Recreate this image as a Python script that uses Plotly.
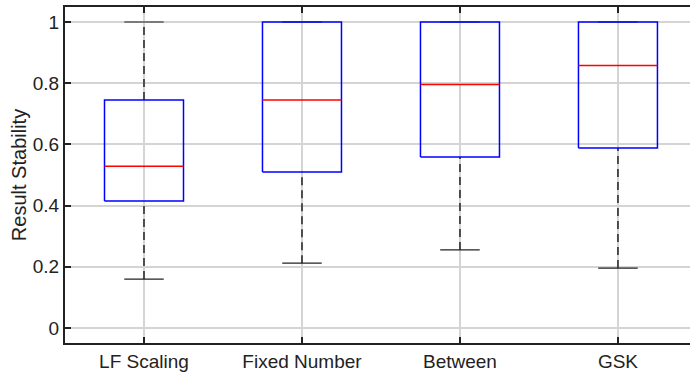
import plotly.graph_objects as go

categories = ["LF Scaling", "Fixed Number", "Between", "GSK"]
lower_whisker = [0.160, 0.212, 0.255, 0.196]
q1 = [0.415, 0.510, 0.559, 0.588]
median = [0.529, 0.745, 0.796, 0.858]
q3 = [0.745, 1.000, 1.000, 1.000]
upper_whisker = [1.000, 1.000, 1.000, 1.000]
y_ticks = [0, 0.2, 0.4, 0.6, 0.8, 1]

box_half = 0.25
cap_half = 0.125

fig = go.Figure()

for i, name in enumerate(categories):
    x = i + 1
    # whiskers (dashed)
    fig.add_trace(go.Scatter(x=[x, x], y=[lower_whisker[i], q1[i]], mode="lines",
                             line=dict(color="#222222", width=1.5, dash="8px,5px"),
                             showlegend=False, hoverinfo="skip"))
    if upper_whisker[i] > q3[i]:
        fig.add_trace(go.Scatter(x=[x, x], y=[q3[i], upper_whisker[i]], mode="lines",
                                 line=dict(color="#222222", width=1.5, dash="8px,5px"),
                                 showlegend=False, hoverinfo="skip"))
    # caps
    for v in (lower_whisker[i], upper_whisker[i]):
        fig.add_trace(go.Scatter(x=[x - cap_half, x + cap_half], y=[v, v], mode="lines",
                                 line=dict(color="#222222", width=1.2),
                                 showlegend=False, hoverinfo="skip"))
    # box
    fig.add_trace(go.Scatter(x=[x - box_half, x + box_half, x + box_half, x - box_half, x - box_half],
                             y=[q1[i], q1[i], q3[i], q3[i], q1[i]], mode="lines",
                             line=dict(color="#0000ff", width=1.5),
                             showlegend=False, hoverinfo="skip"))
    # median
    fig.add_trace(go.Scatter(x=[x - box_half, x + box_half], y=[median[i], median[i]], mode="lines",
                             line=dict(color="#ff0000", width=1.5),
                             showlegend=False, hoverinfo="skip"))

fig.update_layout(
    width=690, height=374,
    margin=dict(l=65, r=0, t=7, b=31),
    paper_bgcolor="white", plot_bgcolor="white",
    font=dict(family="Liberation Sans, Arial, sans-serif", size=19, color="#222222"),
    xaxis=dict(range=[0.5, 4.456], tickvals=[1, 2, 3, 4], ticktext=categories,
               showgrid=True, gridcolor="#d4d4d4", gridwidth=1.5,
               showline=True, linecolor="#222222", linewidth=2, mirror="ticks",
               ticks="inside", ticklen=6, tickwidth=2, tickcolor="#222222",
               zeroline=False, tickfont=dict(size=19)),
    yaxis=dict(range=[-0.049, 1.049], tickvals=y_ticks, ticktext=["0", "0.2", "0.4", "0.6", "0.8", "1"],
               showgrid=True, gridcolor="#d4d4d4", gridwidth=1.5,
               showline=True, linecolor="#222222", linewidth=2,
               ticks="inside", ticklen=6, tickwidth=2, tickcolor="#222222",
               zeroline=False, tickfont=dict(size=19),
               title=dict(text="Result Stability", font=dict(size=20), standoff=1)),
)

fig.write_html("out.html")
